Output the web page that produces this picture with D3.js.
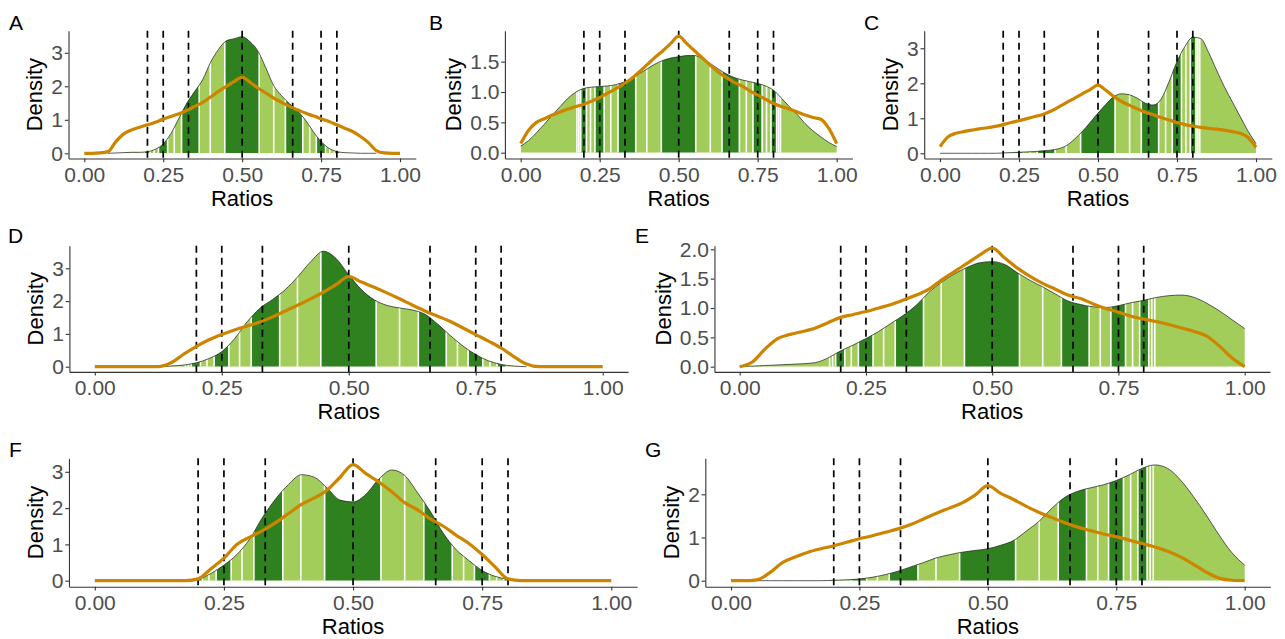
<!DOCTYPE html>
<html>
<head>
<meta charset="utf-8">
<script src="https://cdn.jsdelivr.net/npm/d3@7"></script>
<style>
    body { margin: 0; background: #ffffff; }
    svg { font-family: "Liberation Sans", Arial, sans-serif; }
    .panel-label { font-size: 21px; fill: #000000; }
    .axis-title { font-size: 22px; fill: #000000; }
</style>
</head>
<body>
<div id="chart"></div>
<script>
// Density of ratios per panel, banded around simple fractions, with a reference density in orange

let width = 1285;
let height = 639;

// Ratio values at which the curves were read
let ratioGrid = [0, 0.025, 0.05, 0.075, 0.1, 0.125, 0.15, 0.175, 0.2, 0.225,
    0.25, 0.275, 0.3, 0.325, 0.35, 0.375, 0.4, 0.425, 0.45, 0.475,
    0.5, 0.525, 0.55, 0.575, 0.6, 0.625, 0.65, 0.675, 0.7, 0.725,
    0.75, 0.775, 0.8, 0.825, 0.85, 0.875, 0.9, 0.925, 0.95, 0.975, 1];

let xTicks = [0, 0.25, 0.5, 0.75, 1];
let refRatios = [0.2, 0.25, 0.33, 0.5, 0.66, 0.75, 0.8];

// Band edges along the ratio axis and whether each band is a dark one
let bandEdges = [0, 0.178, 0.184, 0.19, 0.208, 0.221, 0.235, 0.264, 0.285, 0.308, 0.364,
    0.399, 0.445, 0.554, 0.6, 0.637, 0.692, 0.714, 0.735, 0.764, 0.778, 0.792, 0.81,
    0.816, 0.822, 1];
let bandDark = [0, 0, 0, 1, 0, 0, 1, 0, 0, 1, 0, 0, 1, 0, 0, 1, 0, 0, 1, 0, 0, 1, 0, 0, 0];

let panelNames = ["A", "B", "C", "D", "E", "F", "G"];

// Green densities (null = outside the data range)
let densA = [null, null, null, 0, 0.01, 0.02, 0.03, 0.03, 0.05, 0.12, 0.28, 0.6, 1.05, 1.5, 1.85, 2.2,
    2.72, 3.1, 3.36, 3.42, 3.48, 3.33, 3.05, 2.55, 2.02, 1.72, 1.48, 1.27, 1.0, 0.65, 0.35, 0.15,
    0.05, 0.02, 0.01, 0, 0, 0, null, null, null];
let densB = [0.11, 0.2, 0.33, 0.47, 0.62, 0.76, 0.9, 1.0, 1.06, 1.08, 1.09, 1.1, 1.12, 1.16, 1.22, 1.3,
    1.38, 1.46, 1.52, 1.56, 1.58, 1.6, 1.6, 1.55, 1.47, 1.38, 1.3, 1.24, 1.2, 1.17, 1.14, 1.1,
    1.03, 0.9, 0.76, 0.63, 0.48, 0.36, 0.26, 0.17, 0.1];
let densC = [0, 0, 0, 0, 0, 0, 0, 0, 0.01, 0.02, 0.03, 0.04, 0.05, 0.07, 0.09, 0.13,
    0.22, 0.4, 0.62, 0.88, 1.15, 1.4, 1.62, 1.7, 1.67, 1.57, 1.43, 1.38, 1.55, 2.05, 2.62, 3.05,
    3.32, 3.28, 2.88, 2.38, 1.9, 1.47, 1.05, 0.63, 0.28];
let densD = [null, null, null, null, null, 0, 0.02, 0.05, 0.12, 0.25, 0.46, 0.85, 1.37, 1.78, 2.05, 2.35,
    2.75, 3.2, 3.52, 3.3, 2.8, 2.35, 2.04, 1.87, 1.79, 1.73, 1.6, 1.3, 0.95, 0.63, 0.37, 0.18,
    0.07, 0.02, 0, null, null, null, null, null, null];
let densE = [0.01, 0.01, 0.02, 0.03, 0.04, 0.05, 0.07, 0.15, 0.27, 0.37, 0.48, 0.6, 0.74, 0.88, 1.05, 1.27,
    1.44, 1.58, 1.69, 1.77, 1.79, 1.74, 1.6, 1.47, 1.36, 1.24, 1.12, 1.06, 1.02, 1.01, 1.04, 1.09,
    1.13, 1.18, 1.21, 1.22, 1.18, 1.08, 0.95, 0.8, 0.65];
let densF = [null, null, null, null, null, null, null, null, 0.02, 0.2, 0.43, 0.72, 1.15, 1.75, 2.25, 2.65,
    2.92, 2.85, 2.55, 2.22, 2.17, 2.38, 2.8, 3.05, 2.9, 2.42, 1.9, 1.3, 0.85, 0.55, 0.28, 0.12,
    0.04, null, null, null, null, null, null, null, null];
let densG = [0, 0, 0, 0, 0, 0, 0, 0, 0.01, 0.02, 0.04, 0.08, 0.14, 0.22, 0.32, 0.42,
    0.53, 0.6, 0.66, 0.7, 0.74, 0.82, 0.93, 1.15, 1.38, 1.68, 1.93, 2.07, 2.15, 2.22, 2.32, 2.45,
    2.6, 2.68, 2.6, 2.33, 1.95, 1.52, 1.06, 0.65, 0.36];

// Orange reference densities
let lineA = [0, 0, 0.01, 0.05, 0.35, 0.58, 0.7, 0.78, 0.85, 0.93, 1.02, 1.1, 1.18, 1.28, 1.4, 1.52,
    1.68, 1.85, 2.0, 2.15, 2.27, 2.12, 1.95, 1.8, 1.65, 1.52, 1.4, 1.3, 1.2, 1.12, 1.03, 0.95,
    0.85, 0.75, 0.65, 0.5, 0.32, 0.08, 0.01, 0, 0];
let lineB = [0.15, 0.37, 0.5, 0.56, 0.62, 0.67, 0.72, 0.76, 0.8, 0.85, 0.91, 0.98, 1.05, 1.13, 1.22, 1.33,
    1.45, 1.57, 1.68, 1.8, 1.92, 1.8, 1.68, 1.56, 1.44, 1.33, 1.24, 1.16, 1.1, 1.02, 0.95, 0.88,
    0.81, 0.76, 0.72, 0.67, 0.62, 0.58, 0.55, 0.4, 0.15];
let lineC = [0.19, 0.47, 0.57, 0.62, 0.66, 0.7, 0.73, 0.77, 0.82, 0.88, 0.93, 0.99, 1.05, 1.11, 1.2, 1.32,
    1.45, 1.57, 1.7, 1.82, 1.95, 1.8, 1.62, 1.48, 1.37, 1.27, 1.17, 1.1, 1.02, 0.95, 0.88, 0.82,
    0.78, 0.74, 0.71, 0.69, 0.66, 0.62, 0.57, 0.45, 0.17];
let lineD = [0, 0, 0, 0, 0, 0, 0.12, 0.38, 0.62, 0.82, 0.98, 1.12, 1.24, 1.36, 1.52, 1.7,
    1.88, 2.07, 2.27, 2.5, 2.75, 2.58, 2.42, 2.25, 2.07, 1.88, 1.7, 1.54, 1.38, 1.18, 0.98, 0.78,
    0.57, 0.31, 0.08, 0, 0, 0, 0, 0, 0];
let lineE = [0, 0.08, 0.3, 0.48, 0.55, 0.6, 0.66, 0.75, 0.84, 0.89, 0.94, 1.0, 1.06, 1.14, 1.22, 1.32,
    1.48, 1.62, 1.76, 1.9, 2.02, 1.85, 1.68, 1.54, 1.42, 1.32, 1.22, 1.16, 1.07, 0.99, 0.93, 0.86,
    0.81, 0.77, 0.72, 0.66, 0.6, 0.52, 0.35, 0.15, 0];
let lineF = [0, 0, 0, 0, 0, 0, 0, 0, 0.05, 0.33, 0.62, 1.0, 1.2, 1.38, 1.6, 1.85,
    2.1, 2.28, 2.5, 2.85, 3.2, 2.95, 2.72, 2.45, 2.15, 1.95, 1.7, 1.5, 1.25, 1.02, 0.72, 0.38,
    0.05, 0, 0, 0, 0, 0, 0, 0, 0];
let lineG = [0, 0, 0.02, 0.18, 0.42, 0.55, 0.66, 0.74, 0.81, 0.89, 0.97, 1.04, 1.12, 1.2, 1.3, 1.43,
    1.56, 1.68, 1.8, 1.98, 2.2, 2.02, 1.88, 1.72, 1.58, 1.46, 1.34, 1.24, 1.16, 1.08, 1.02, 0.94,
    0.86, 0.78, 0.68, 0.55, 0.38, 0.2, 0.06, 0.01, 0];

// Y tick values per panel
let yTicksA = [0, 1, 2, 3];
let yTicksB = [0, 0.5, 1, 1.5];
let yTicksC = [0, 1, 2, 3];
let yTicksD = [0, 1, 2, 3];
let yTicksE = [0, 0.5, 1, 1.5, 2];
let yTicksF = [0, 1, 2, 3];
let yTicksG = [0, 1, 2];

let densities = [densA, densB, densC, densD, densE, densF, densG];
let lines = [lineA, lineB, lineC, lineD, lineE, lineF, lineG];
let yTicks = [yTicksA, yTicksB, yTicksC, yTicksD, yTicksE, yTicksF, yTicksG];

// Where each panel sits: pixel of ratio 0 and 1, pixel of density 0, px per density unit
let layout = [
    { lx: 9,   ly: 30,  x0: 84.3,  x1: 400,    y0: 153.3, unit: 33.5, top: 30.7,  bottom: 158.5, fmt: "d" },
    { lx: 429, ly: 30,  x0: 520.7, x1: 836.7,  y0: 152.7, unit: 60.7, top: 30.7,  bottom: 158.5, fmt: ".1f" },
    { lx: 864, ly: 30,  x0: 940,   x1: 1256,   y0: 153.3, unit: 35,   top: 30.7,  bottom: 158.5, fmt: "d" },
    { lx: 8,   ly: 243, x0: 94.8,  x1: 602.7,  y0: 366.7, unit: 32.8, top: 245.7, bottom: 371.9, fmt: "d" },
    { lx: 635, ly: 243, x0: 739.7, x1: 1244.7, y0: 366.7, unit: 58.7, top: 245.7, bottom: 371.9, fmt: ".1f" },
    { lx: 9,   ly: 457, x0: 94.8,  x1: 611.3,  y0: 580.7, unit: 36.3, top: 458.3, bottom: 586.7, fmt: "d" },
    { lx: 645, ly: 457, x0: 731,   x1: 1244.7, y0: 580.7, unit: 43.2, top: 458.3, bottom: 586.7, fmt: "d" }
];

let darkGreen = "#2f801f";
let lightGreen = "#a2cd5a";
let orange = "#cd8500";

let svg = d3.select("#chart")
    .append("svg")
    .attr("width", width)
    .attr("height", height);

panelNames.forEach(function (name, i) {
    let p = layout[i];
    let span = p.x1 - p.x0;
    let left = p.x0 - 0.05 * span;
    let right = p.x1 + 0.05 * span;

    // scales cover the expanded panel so the axis lines run edge to edge
    let xScale = d3.scaleLinear()
        .domain([-0.05, 1.05])
        .range([left, right]);

    let yScale = d3.scaleLinear()
        .domain([(p.y0 - p.bottom) / p.unit, (p.y0 - p.top) / p.unit])
        .range([p.bottom, p.top]);

    let dens = ratioGrid.map(function (r, j) { return { r: r, v: densities[i][j] }; })
        .filter(function (d) { return d.v !== null; });
    let ref = ratioGrid.map(function (r, j) { return { r: r, v: lines[i][j] }; });

    let g = svg.append("g");

    // Clip shape = area under the green density
    let area = d3.area()
        .curve(d3.curveMonotoneX)
        .x(function (d) { return xScale(d.r); })
        .y0(yScale(0))
        .y1(function (d) { return yScale(d.v); });

    g.append("clipPath")
        .attr("id", "clip" + name)
        .append("path")
        .datum(dens)
        .attr("d", area);

    let bands = bandDark.map(function (dk, j) {
        return { a: bandEdges[j], b: bandEdges[j + 1], dark: dk };
    });

    let fill = g.append("g").attr("clip-path", "url(#clip" + name + ")");

    fill.selectAll("rect")
        .data(bands)
        .enter()
        .append("rect")
        .attr("x", function (d) { return xScale(d.a); })
        .attr("width", function (d) { return xScale(d.b) - xScale(d.a) + 0.3; })
        .attr("y", p.top)
        .attr("height", yScale(0) - p.top)
        .attr("fill", function (d) { return d.dark ? darkGreen : lightGreen; });

    // Density outline
    let densLine = d3.line()
        .curve(d3.curveMonotoneX)
        .x(function (d) { return xScale(d.r); })
        .y(function (d) { return yScale(d.v); });

    g.append("path")
        .datum(dens)
        .attr("d", densLine)
        .attr("fill", "none")
        .attr("stroke", "#1a1a1a")
        .attr("stroke-width", 0.7);

    // White separators between bands
    fill.selectAll("line")
        .data(bandEdges.slice(1, -1))
        .enter()
        .append("line")
        .attr("x1", function (d) { return xScale(d); })
        .attr("x2", function (d) { return xScale(d); })
        .attr("y1", p.top)
        .attr("y2", yScale(0))
        .attr("stroke", "#ffffff")
        .attr("stroke-width", 1.6);

    // Dashed reference ratios
    g.selectAll(".ref")
        .data(refRatios)
        .enter()
        .append("line")
        .attr("class", "ref")
        .attr("x1", function (d) { return xScale(d); })
        .attr("x2", function (d) { return xScale(d); })
        .attr("y1", p.top)
        .attr("y2", p.bottom)
        .attr("stroke", "#000000")
        .attr("stroke-width", 1.7)
        .attr("stroke-dasharray", "7,5");

    // Orange reference density
    g.append("path")
        .datum(ref)
        .attr("d", densLine)
        .attr("fill", "none")
        .attr("stroke", orange)
        .attr("stroke-width", 3.2)
        .attr("stroke-linejoin", "round");

    // Axes
    let xAxis = d3.axisBottom(xScale)
        .tickValues(xTicks)
        .tickFormat(d3.format(".2f"))
        .tickSize(3.7)
        .tickSizeOuter(0)
        .tickPadding(4.4);

    let yAxis = d3.axisLeft(yScale)
        .tickValues(yTicks[i])
        .tickFormat(d3.format(p.fmt))
        .tickSize(3.7)
        .tickSizeOuter(0)
        .tickPadding(1.8);

    let gx = g.append("g")
        .attr("transform", "translate(0," + p.bottom + ")")
        .call(xAxis);

    let gy = g.append("g")
        .attr("transform", "translate(" + left + ",0)")
        .call(yAxis);

    [gx, gy].forEach(function (ax) {
        ax.attr("font-family", null).attr("font-size", null);
        ax.select(".domain").attr("stroke", "#333333").attr("stroke-width", 1.1);
        ax.selectAll(".tick line").attr("stroke", "#333333").attr("stroke-width", 1.1);
        ax.selectAll(".tick text")
            .attr("fill", "#4d4d4d")
            .style("font-size", "21px");
    });

    let maxLabel = 0;
    gy.selectAll(".tick text").each(function () {
        maxLabel = Math.max(maxLabel, this.getComputedTextLength());
    });

    // Axis titles and panel letter
    g.append("text")
        .attr("class", "axis-title")
        .attr("x", (left + right) / 2)
        .attr("y", p.bottom + 47)
        .attr("text-anchor", "middle")
        .text("Ratios");

    let titleX = left - 3.7 - 1.8 - maxLabel - 9;
    g.append("text")
        .attr("class", "axis-title")
        .attr("transform", "translate(" + titleX + "," + ((p.top + p.bottom) / 2) + ") rotate(-90)")
        .attr("text-anchor", "middle")
        .text("Density");

    g.append("text")
        .attr("class", "panel-label")
        .attr("x", p.lx)
        .attr("y", p.ly)
        .text(name);
});
</script>
</body>
</html>
